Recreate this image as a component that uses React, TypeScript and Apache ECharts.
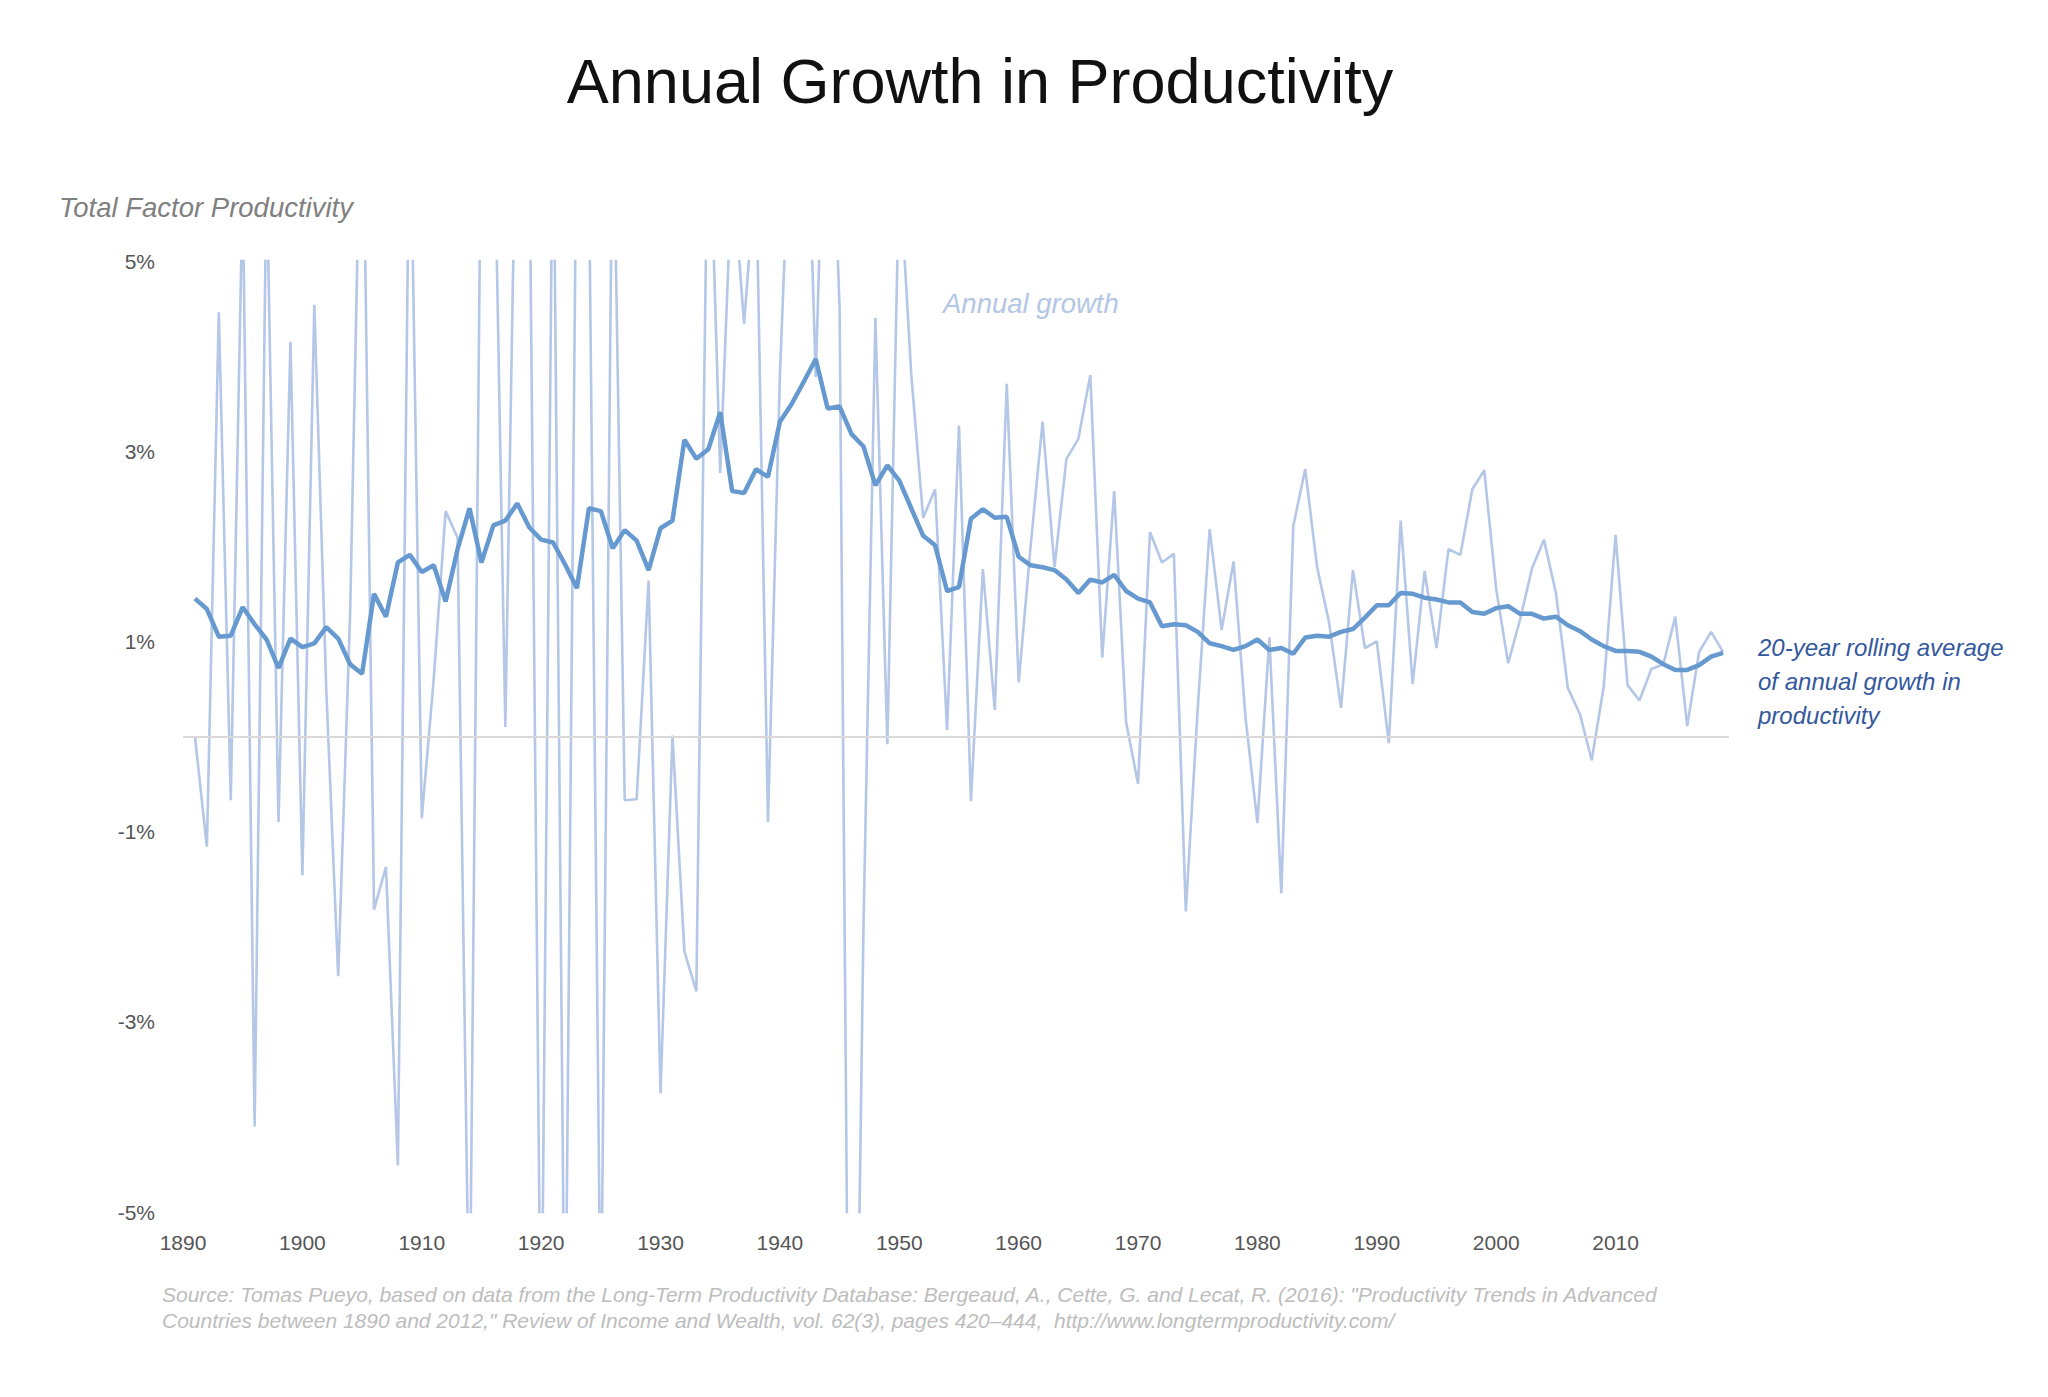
import React, { useEffect, useRef } from "react";
import * as echarts from "echarts";

const firstYear = 1891;

const annualGrowth = [
  0.0, -1.16, 4.46, -0.67, 5.8, -4.1, 6.0, -0.9, 4.15, -1.46,
  4.54, 0.5, -2.52, 1.3, 7.5, -1.82, -1.37, -4.51, 7.0, -0.86,
  0.6, 2.37, 2.09, -6.5, 7.0, 7.0, 0.1, 7.5, 6.5, -7.0,
  7.0, -7.0, 7.0, 6.0, -6.5, 7.0, -0.67, -0.66, 1.64, -3.75,
  0.01, -2.26, -2.68, 7.0, 2.77, 6.0, 4.34, 6.0, -0.9, 3.8,
  7.0, 8.0, 3.78, 8.0, 4.5, -11.0, -2.0, 4.4, -0.08, 6.0,
  3.81, 2.3, 2.6, 0.07, 3.27, -0.68, 1.76, 0.28, 3.71, 0.57,
  2.0, 3.31, 1.78, 2.92, 3.13, 3.8, 0.83, 2.58, 0.15, -0.5,
  2.15, 1.83, 1.92, -1.84, 0.3, 2.18, 1.12, 1.84, 0.2, -0.91,
  1.04, -1.65, 2.21, 2.81, 1.78, 1.2, 0.3, 1.75, 0.93, 1.0,
  -0.07, 2.27, 0.55, 1.74, 0.93, 1.97, 1.91, 2.6, 2.8, 1.55,
  0.77, 1.23, 1.77, 2.07, 1.51, 0.51, 0.24, -0.25, 0.52, 2.12,
  0.54, 0.38, 0.71, 0.76, 1.26, 0.11, 0.89, 1.1, 0.89,
];

const rollingAverage = [
  1.45, 1.34, 1.05, 1.06, 1.36, 1.18, 1.02, 0.72, 1.03, 0.94,
  0.98, 1.15, 1.03, 0.76, 0.66, 1.5, 1.26, 1.83, 1.91, 1.73,
  1.8, 1.42, 1.97, 2.4, 1.83, 2.22, 2.27, 2.45, 2.2, 2.07,
  2.04, 1.81, 1.56, 2.4, 2.37, 1.98, 2.17, 2.06, 1.75, 2.19,
  2.27, 3.12, 2.92, 3.02, 3.41, 2.58, 2.56, 2.81, 2.73, 3.31,
  3.5, 3.73, 3.97, 3.45, 3.47, 3.18, 3.05, 2.64, 2.85, 2.69,
  2.4, 2.11, 2.01, 1.53, 1.57, 2.29, 2.39, 2.3, 2.31, 1.89,
  1.8, 1.78, 1.75, 1.65, 1.51, 1.65, 1.62, 1.7, 1.53, 1.45,
  1.41, 1.16, 1.18, 1.17, 1.1, 0.98, 0.95, 0.91, 0.95, 1.02,
  0.91, 0.93, 0.87, 1.04, 1.06, 1.05, 1.1, 1.13, 1.25, 1.38,
  1.38, 1.51, 1.5, 1.46, 1.44, 1.41, 1.41, 1.31, 1.29, 1.35,
  1.37, 1.29, 1.29, 1.24, 1.26, 1.17, 1.11, 1.02, 0.95, 0.9,
  0.9, 0.89, 0.84, 0.76, 0.7, 0.7, 0.75, 0.84, 0.88,
];

const years = annualGrowth.map((_, i) => firstYear + i);

const titleText = "Annual Growth in Productivity";
const yAxisTitle = "Total Factor Productivity";
const annualLabel = "Annual growth";
const rollingLabel = "20-year rolling average\nof annual growth in\nproductivity";
const sourceLine1 =
  'Source: Tomas Pueyo, based on data from the Long-Term Productivity Database: Bergeaud, A., Cette, G. and Lecat, R. (2016): "Productivity Trends in Advanced';
const sourceLine2 =
  'Countries between 1890 and 2012," Review of Income and Wealth, vol. 62(3), pages 420–444,  http://www.longtermproductivity.com/';

const FONT = "'Liberation Sans', Arial, Helvetica, sans-serif";

export default function App() {
  const ref = useRef<HTMLDivElement>(null);

  useEffect(() => {
    if (!ref.current) return;
    const chart = echarts.init(ref.current, undefined, { renderer: "svg" });
    const option = {
      animation: false,
      backgroundColor: "#ffffff",
      textStyle: { fontFamily: FONT },
      grid: { left: 183, right: 319, top: 261, bottom: 185 },
      xAxis: {
        type: "value",
        min: 1890,
        max: 2019.5,
        interval: 10,
        axisLine: { show: false },
        axisTick: { show: false },
        splitLine: { show: false },
        axisLabel: {
          color: "#555555",
          fontSize: 21,
          fontFamily: FONT,
          margin: 20,
          formatter: (v: number) => (v % 10 === 0 ? String(v) : ""),
        },
      },
      yAxis: {
        type: "value",
        min: -5,
        max: 5,
        interval: 1,
        axisLine: { show: false },
        axisTick: { show: false },
        splitLine: { show: false },
        axisLabel: {
          color: "#555555",
          fontSize: 21,
          fontFamily: FONT,
          margin: 28,
          formatter: (v: number) => (Math.abs(Math.round(v)) % 2 === 1 ? v + "%" : ""),
        },
      },
      series: [
        {
          type: "line",
          name: "Annual growth",
          data: years.map((y, i) => [y, annualGrowth[i]]),
          showSymbol: false,
          symbol: "none",
          clip: true,
          z: 2,
          lineStyle: { color: "#b4c7e7", width: 2.6 },
          markLine: {
            silent: true,
            symbol: ["none", "none"],
            label: { show: false },
            lineStyle: { color: "#d9d9d9", width: 2, type: "solid" },
            data: [{ yAxis: 0 }],
          },
        },
        {
          type: "line",
          name: "Rolling average",
          data: years.map((y, i) => [y, rollingAverage[i]]),
          showSymbol: false,
          symbol: "none",
          clip: true,
          z: 3,
          lineStyle: { color: "#6699cf", width: 4.5 },
        },
      ],
      graphic: [
        {
          type: "text",
          x: 980,
          y: 81,
          style: {
            text: titleText,
            fontSize: 63,
            fontFamily: FONT,
            fill: "#111111",
            align: "center",
            verticalAlign: "middle",
          },
        },
        {
          type: "text",
          x: 59,
          y: 207,
          style: {
            text: yAxisTitle,
            fontSize: 27.5,
            fontStyle: "italic",
            fontFamily: FONT,
            fill: "#808080",
            align: "left",
            verticalAlign: "middle",
          },
        },
        {
          type: "text",
          x: 943,
          y: 303,
          style: {
            text: annualLabel,
            fontSize: 27.5,
            fontStyle: "italic",
            fontFamily: FONT,
            fill: "#b3c6e6",
            align: "left",
            verticalAlign: "middle",
          },
        },
        {
          type: "text",
          x: 1758,
          y: 630,
          style: {
            text: rollingLabel,
            fontSize: 24,
            lineHeight: 34,
            fontStyle: "italic",
            fontFamily: FONT,
            fill: "#34589c",
            align: "left",
            verticalAlign: "top",
          },
        },
        {
          type: "text",
          x: 162,
          y: 1294,
          style: {
            text: sourceLine1,
            fontSize: 21,
            fontStyle: "italic",
            fontFamily: FONT,
            fill: "#bdbdbd",
            align: "left",
            verticalAlign: "middle",
          },
        },
        {
          type: "text",
          x: 162,
          y: 1320,
          style: {
            text: sourceLine2,
            fontSize: 21,
            fontStyle: "italic",
            fontFamily: FONT,
            fill: "#bdbdbd",
            align: "left",
            verticalAlign: "middle",
          },
        },
      ],
    };
    chart.setOption(option as any);
    return () => {
      chart.dispose();
    };
  }, []);

  return (
    <div
      ref={ref}
      style={{ position: "fixed", left: 0, top: 0, width: 2048, height: 1397 }}
    />
  );
}
